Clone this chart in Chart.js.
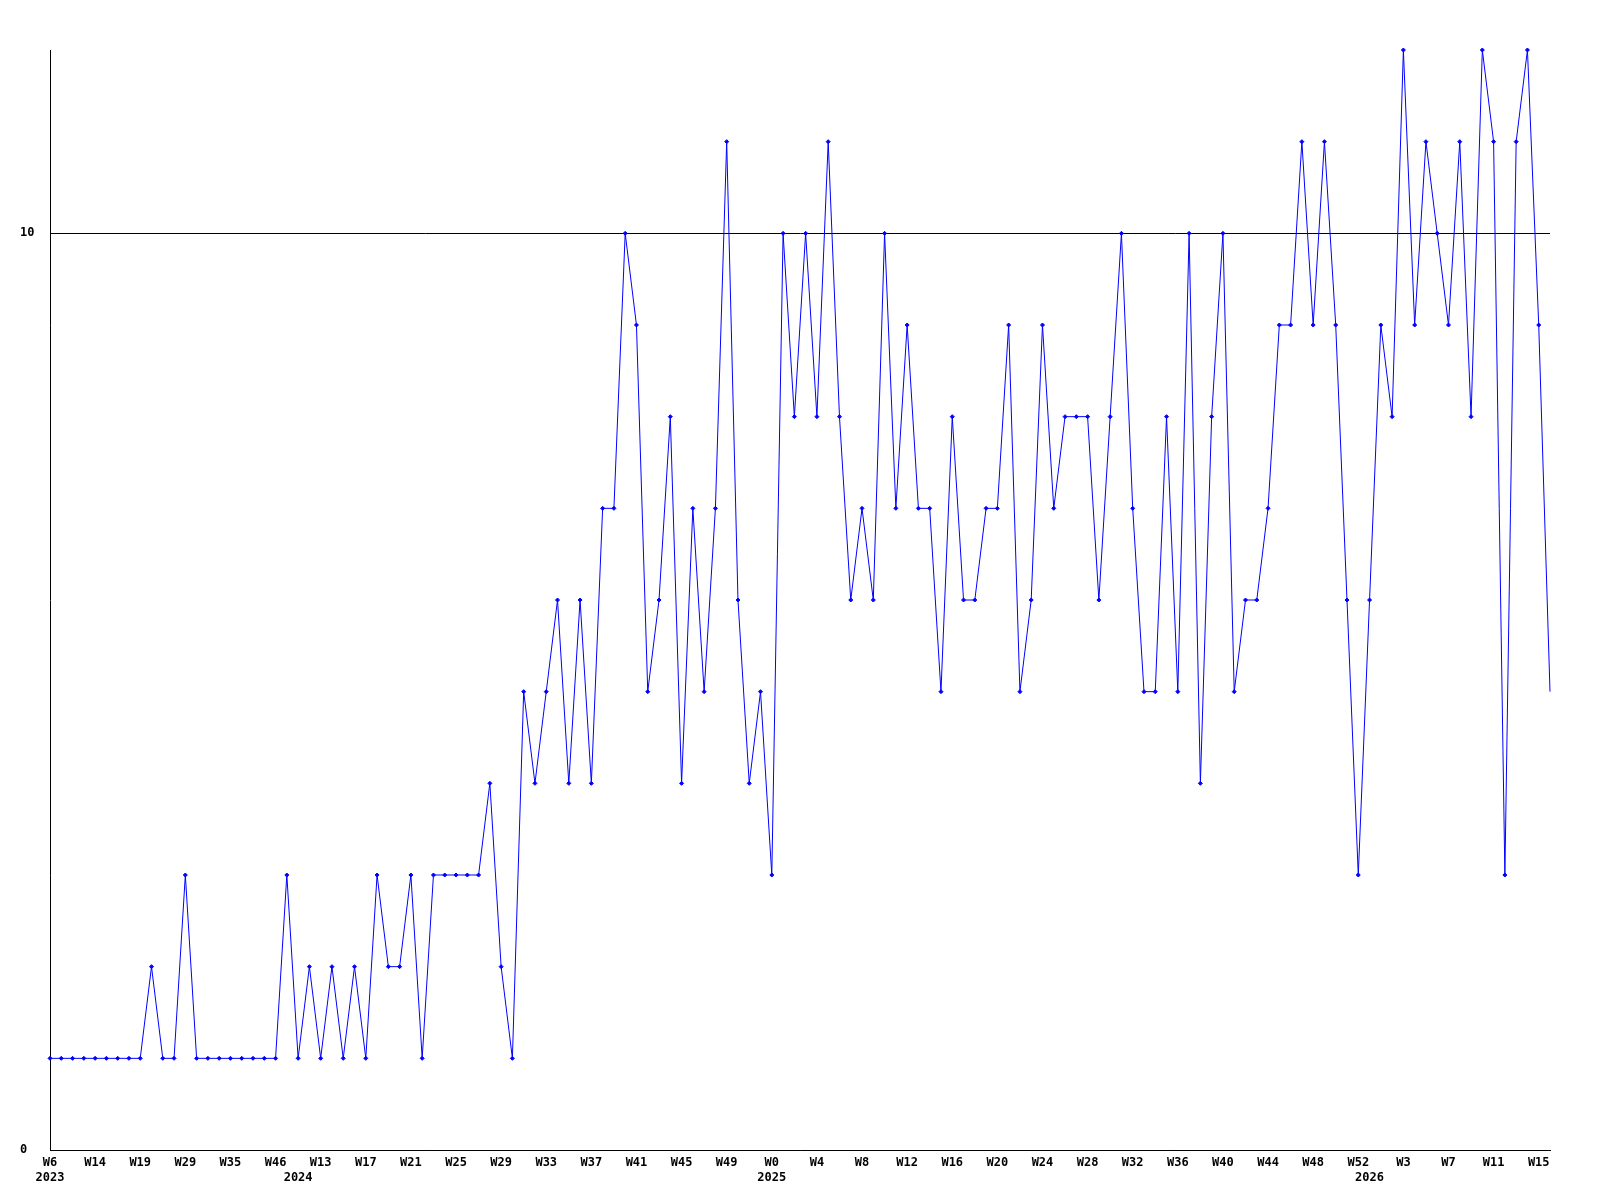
<!DOCTYPE html>
<html>
<head>
<meta charset="utf-8">
<script src="https://cdn.jsdelivr.net/npm/chart.js@4.4.1/dist/chart.umd.min.js"></script>
<style>
html,body{margin:0;padding:0;background:#ffffff;}
#wrap{width:1600px;height:1200px;position:relative;}
</style>
</head>
<body>
<div id="wrap"><canvas id="c"></canvas></div>
<script>
// Weekly values (134 weeks)
const values = [
  1,1,1,1,1,1,1,1,1,2,
  1,1,3,1,1,1,1,1,1,1,
  1,3,1,2,1,2,1,2,1,3,
  2,2,3,1,3,3,3,3,3,4,
  2,1,5,4,5,6,4,6,4,7,
  7,10,9,5,6,8,4,7,5,7,
  11,6,4,5,3,10,8,10,8,11,
  8,6,7,6,10,7,9,7,7,5,
  8,6,6,7,7,9,5,6,9,7,
  8,8,8,6,8,10,7,5,5,8,
  5,10,4,8,10,5,6,6,7,9,
  9,11,9,11,9,6,3,6,9,8,
  12,9,11,10,9,11,8,12,11,3,
  11,12,9,5
];
// Week tick labels shown every 4th week
const weekTicks = ['W6','W14','W19','W29','W35','W46','W13','W17','W21','W25','W29','W33','W37','W41','W45','W49','W0','W4','W8','W12','W16','W20','W24','W28','W32','W36','W40','W44','W48','W52','W3','W7','W11','W15'];
// Year labels and the week index where each year starts
const yearLabels = ['2023','2024','2025','2026'];
const yearStarts = [0,22,64,117];
// Y tick values
const yTicks = [0,10];
const yMin = 0, yMax = 12;

const categories = values.map((v,i) => (i % 4 === 0 ? weekTicks[i/4] : ''));

const tickFont = {family: '"DejaVu Sans Mono", "Liberation Mono", monospace', size: 12, weight: 'bold', lineHeight: 1.25};

new Chart(document.getElementById('c'), {
  type: 'line',
  data: {
    labels: categories,
    datasets: [{
      data: values,
      borderColor: '#0000ff',
      backgroundColor: '#0000ff',
      borderWidth: 1,
      pointStyle: 'rectRot',
      pointRadius: (ctx) => (ctx.dataIndex === values.length - 1 ? 0 : 2),
      pointBorderWidth: 1,
      pointBorderColor: '#0000ff',
      pointBackgroundColor: '#0000ff',
      tension: 0,
      fill: false,
      clip: false
    }]
  },
  options: {
    responsive: true,
    maintainAspectRatio: false,
    devicePixelRatio: 1,
    animation: false,
    layout: {padding: {left: 20, top: 50, right: 50, bottom: 0}},
    plugins: {legend: {display: false}, tooltip: {enabled: false}, title: {display: false}},
    scales: {
      x: {
        type: 'category',
        offset: false,
        grid: {display: false, drawTicks: false},
        border: {display: true, color: '#000000', width: 1},
        afterFit: (s) => { s.height = 50; },
        ticks: {
          autoSkip: false,
          maxRotation: 0,
          minRotation: 0,
          padding: 5,
          color: '#000000',
          font: tickFont,
          callback: function(value, index) {
            const w = categories[index];
            const k = yearStarts.indexOf(index);
            if (k >= 0) return [w, yearLabels[k]];
            return w;
          }
        }
      },
      y: {
        min: yMin,
        max: yMax,
        grid: {display: true, color: '#000000', lineWidth: 1, drawTicks: false},
        border: {display: true, color: '#000000', width: 1},
        afterFit: (s) => { s.width = 30; },
        afterBuildTicks: (s) => { s.ticks = yTicks.map(v => ({value: v})); },
        ticks: {
          crossAlign: 'far',
          padding: 0,
          color: '#000000',
          font: tickFont,
          callback: (v) => String(v)
        }
      }
    }
  }
});
</script>
</body>
</html>
